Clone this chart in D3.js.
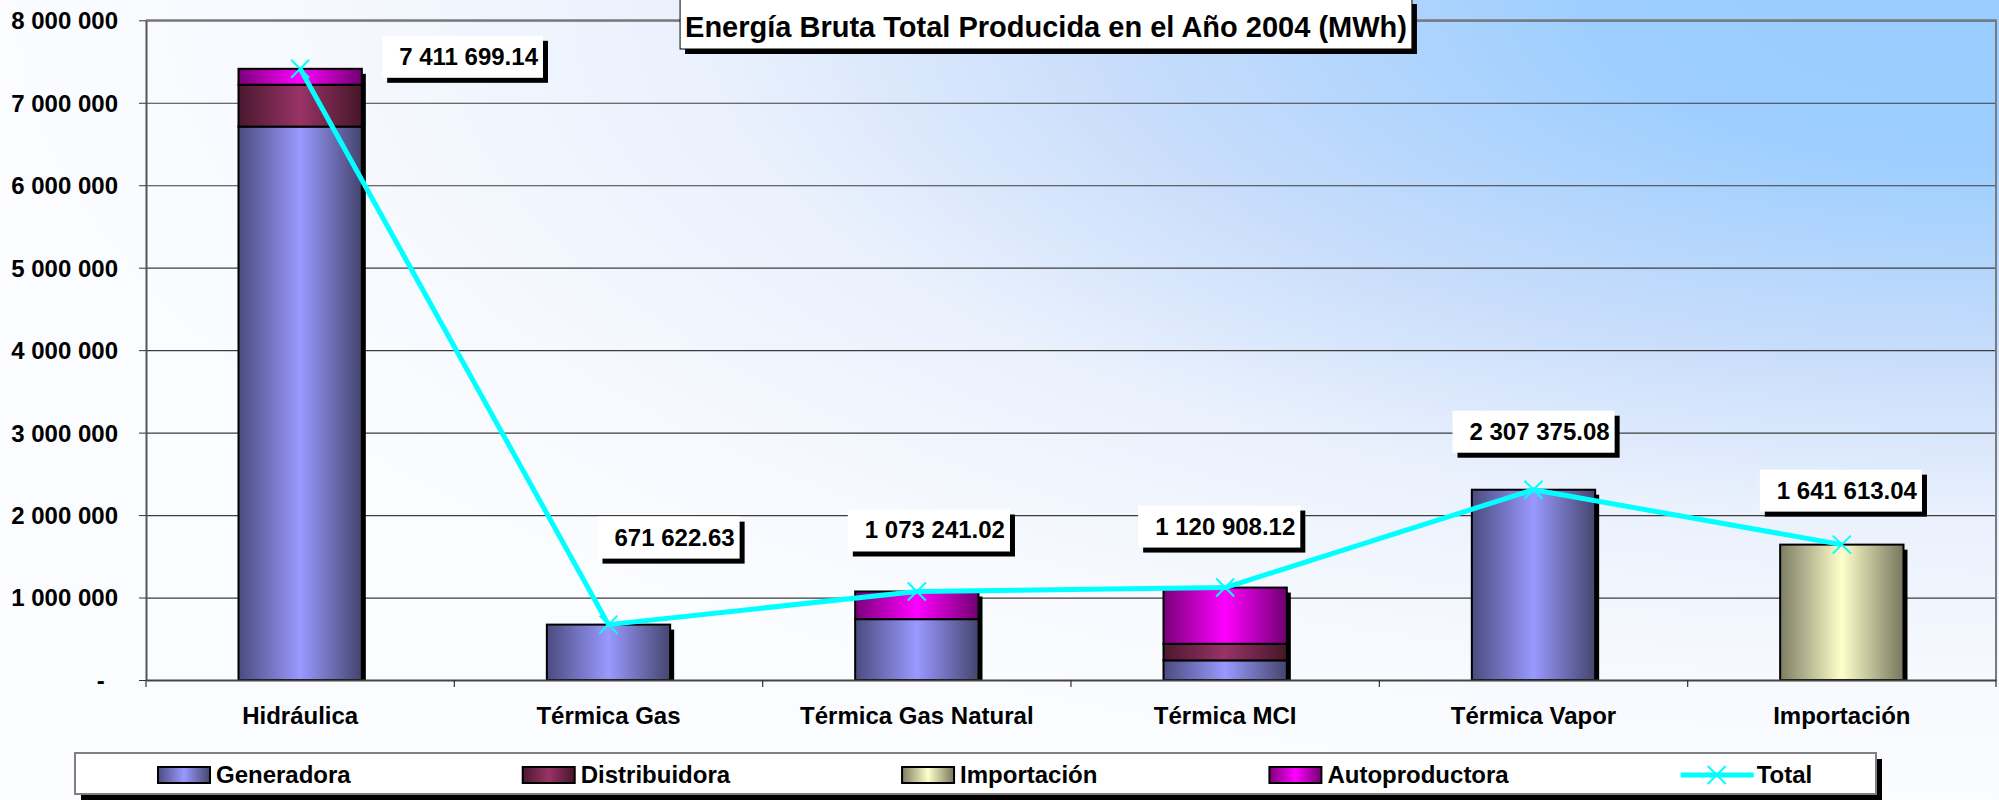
<!DOCTYPE html>
<html>
<head>
<meta charset="utf-8">
<script src="https://cdn.jsdelivr.net/npm/d3@7/dist/d3.min.js"></script>
<style>
  body { margin: 0; background: #fff; overflow: hidden; }
  svg text { font-family: "Liberation Sans", Arial, sans-serif; font-weight: bold; fill: #000; }
</style>
</head>
<body>
<div id="chart"></div>
<script>
// data (MWh)
const categories = ["Hidráulica", "Térmica Gas", "Térmica Gas Natural", "Térmica MCI", "Térmica Vapor", "Importación"];
const seriesNames = ["Generadora", "Distribuidora", "Importación", "Autoproductora"];
const generadora = [6711000, 671622.63, 738000, 238000, 2307375.08, 0];
const distribuidora = [508000, 0, 0, 201000, 0, 0];
const importacion = [0, 0, 0, 0, 0, 1641613.04];
const autoproductora = [192699.14, 0, 335241.02, 681908.12, 0, 0];
const total = [7411699.14, 671622.63, 1073241.02, 1120908.12, 2307375.08, 1641613.04];
const yTicks = [0, 1000000, 2000000, 3000000, 4000000, 5000000, 6000000, 7000000, 8000000];
const titleText = "Energía Bruta Total Producida en el Año 2004 (MWh)";

// where excel left the value boxes, relative to each point
const labelOffsets = [[82, -33], [-11, -108], [-69, -82], [-87, -82], [-81, -79], [-82, -75]];

const W = 1999,
  H = 800,
  plotLeft = 146,
  plotRight = 1996,
  plotTop = 20.3,
  plotBottom = 680;

// bar fills: edge colour, middle colour, edge colour
const fills = {
  Generadora: ["#4b4b80", "#9999ff", "#45456e"],
  Distribuidora: ["#4a1830", "#993366", "#451629"],
  "Importación": ["#7d7d64", "#ffffcc", "#76765e"],
  Autoproductora: ["#7a007a", "#ff00ff", "#700070"]
};

const svg = d3
  .select("#chart")
  .append("svg")
  .attr("width", W)
  .attr("height", H);

const defs = svg.append("defs");

const bg = defs
  .append("radialGradient")
  .attr("id", "bg")
  .attr("cx", 1)
  .attr("cy", 0)
  .attr("r", 1)
  .attr("fx", 1)
  .attr("fy", 0);
[
  [0, "#99ccff"],
  [0.2, "#9dceff"],
  [0.45, "#c8ddfb"],
  [0.65, "#eaf1fd"],
  [0.85, "#f6f9fe"],
  [1, "#fbfcff"]
].forEach(s => bg.append("stop").attr("offset", s[0]).attr("stop-color", s[1]));

Object.keys(fills).forEach((k, i) => {
  const g = defs.append("linearGradient").attr("id", "fill" + i);
  g.append("stop").attr("offset", 0).attr("stop-color", fills[k][0]);
  g.append("stop").attr("offset", 0.5).attr("stop-color", fills[k][1]);
  g.append("stop").attr("offset", 1).attr("stop-color", fills[k][2]);
});

svg.append("rect").attr("width", W).attr("height", H).attr("fill", "url(#bg)");

const x = d3.scaleBand().domain(categories).range([plotLeft, plotRight]);
const y = d3.scaleLinear().domain([0, 8000000]).range([plotBottom, plotTop]);

const fmt = v => d3.format(",")(v).replace(/,/g, " ");
const fmt2 = v => d3.format(",.2f")(v).replace(/,/g, " ");

// gridlines
svg
  .append("g")
  .attr("transform", `translate(${plotLeft},0)`)
  .call(d3.axisLeft(y).tickValues(yTicks.slice(1)).tickSize(-(plotRight - plotLeft)).tickFormat(""))
  .call(g => g.select(".domain").remove())
  .call(g => g.selectAll("line").attr("stroke", "#3c3c3c").attr("stroke-width", 1.2));

// plot border top/right
svg
  .append("path")
  .attr("d", `M${plotLeft},${plotTop}H${plotRight}V${plotBottom}`)
  .attr("fill", "none")
  .attr("stroke", "#7a7a7a")
  .attr("stroke-width", 2);

// stacked bars
const rows = categories.map((c, i) => ({
  cat: c,
  Generadora: generadora[i],
  Distribuidora: distribuidora[i],
  "Importación": importacion[i],
  Autoproductora: autoproductora[i]
}));
const stacked = d3.stack().keys(seriesNames)(rows);
const barW = x.bandwidth() * 0.4;
const barX = c => x(c) + (x.bandwidth() - barW) / 2;
const colTop = d => y(d3.sum(seriesNames, k => d[k]));

// shadows behind each column
svg
  .append("g")
  .selectAll("rect")
  .data(rows)
  .enter()
  .append("rect")
  .attr("x", d => barX(d.cat) + 4)
  .attr("y", d => colTop(d) + 5)
  .attr("width", barW)
  .attr("height", d => plotBottom - colTop(d) - 5)
  .attr("fill", "#000");

svg
  .append("g")
  .selectAll("g")
  .data(stacked)
  .enter()
  .append("g")
  .attr("fill", (d, i) => `url(#fill${i})`)
  .selectAll("rect")
  .data(d => d.filter(s => s[1] - s[0] > 0))
  .enter()
  .append("rect")
  .attr("x", d => barX(d.data.cat))
  .attr("y", d => y(d[1]))
  .attr("width", barW)
  .attr("height", d => y(d[0]) - y(d[1]))
  .attr("stroke", "#000")
  .attr("stroke-width", 2);

// y axis
svg
  .append("g")
  .attr("transform", `translate(${plotLeft},0)`)
  .call(
    d3
      .axisLeft(y)
      .tickValues(yTicks)
      .tickSize(7)
      .tickSizeOuter(0)
      .tickPadding(21)
      .tickFormat(v => (v === 0 ? "-\u00a0\u00a0" : fmt(v)))
  )
  .call(g => g.select(".domain").attr("stroke", "#555").attr("stroke-width", 2))
  .call(g => g.selectAll("line").attr("stroke", "#333"))
  .call(g => g.selectAll("text").style("font-size", "24px").attr("dy", "0.35em"));

// x axis
svg
  .append("g")
  .attr("transform", `translate(0,${plotBottom})`)
  .call(d3.axisBottom(x).tickSize(0).tickPadding(27))
  .call(g => g.select(".domain").attr("stroke", "#444").attr("stroke-width", 2))
  .call(g => g.selectAll("text").style("font-size", "24px"));

svg
  .append("g")
  .selectAll("line")
  .data(categories.concat([null]))
  .enter()
  .append("line")
  .attr("x1", (d, i) => plotLeft + i * x.bandwidth())
  .attr("x2", (d, i) => plotLeft + i * x.bandwidth())
  .attr("y1", plotBottom)
  .attr("y2", plotBottom + 7)
  .attr("stroke", "#333")
  .attr("stroke-width", 1.2);

// total line
const pts = categories.map((c, i) => [x(c) + x.bandwidth() / 2, y(total[i])]);
svg
  .append("path")
  .attr("d", d3.line()(pts))
  .attr("fill", "none")
  .attr("stroke", "#00ffff")
  .attr("stroke-width", 5)
  .attr("stroke-linejoin", "round");

const cross = "M-9,-9L9,9M-9,9L9,-9";
svg
  .append("g")
  .selectAll("path")
  .data(pts)
  .enter()
  .append("path")
  .attr("d", cross)
  .attr("transform", d => `translate(${d[0]},${d[1]})`)
  .attr("stroke", "#00ffff")
  .attr("stroke-width", 2);

// value boxes
const labels = svg
  .append("g")
  .selectAll("g")
  .data(pts)
  .enter()
  .append("g")
  .attr("transform", (d, i) => `translate(${d[0] + labelOffsets[i][0]},${d[1] + labelOffsets[i][1]})`);

labels.each(function (d, i) {
  const g = d3.select(this);
  const sh = g.append("rect").attr("fill", "#000");
  const box = g.append("rect").attr("fill", "#fff");
  const t = g
    .append("text")
    .attr("y", 29)
    .attr("text-anchor", "end")
    .style("font-size", "24px")
    .text(fmt2(total[i]));
  const w = t.node().getComputedTextLength() + 22;
  t.attr("x", w - 5);
  box.attr("width", w).attr("height", 42);
  sh.attr("x", 5).attr("y", 5).attr("width", w).attr("height", 42);
});

// title
const titleG = svg.append("g");
const tSh = titleG.append("rect").attr("fill", "#000");
const tBox = titleG.append("rect").attr("fill", "#fff").attr("stroke", "#000").attr("stroke-width", 1);
const tTxt = titleG
  .append("text")
  .attr("x", 1046)
  .attr("y", 37)
  .attr("text-anchor", "middle")
  .style("font-size", "29px")
  .text(titleText);
const tw = tTxt.node().getComputedTextLength() + 10;
tBox.attr("x", 1046 - tw / 2).attr("y", -1).attr("width", tw).attr("height", 50);
tSh.attr("x", 1046 - tw / 2 + 5).attr("y", 4).attr("width", tw).attr("height", 50);

// legend
const legG = svg.append("g");
legG.append("rect").attr("x", 81).attr("y", 759).attr("width", 1801).attr("height", 41).attr("fill", "#000");
legG
  .append("rect")
  .attr("x", 75)
  .attr("y", 753)
  .attr("width", 1801)
  .attr("height", 41)
  .attr("fill", "#fff")
  .attr("stroke", "#808080")
  .attr("stroke-width", 2);

let lx = 158;
const legendItems = seriesNames.concat(["Total"]);
legendItems.forEach((name, i) => {
  let tx;
  if (name === "Total") {
    legG
      .append("line")
      .attr("x1", lx)
      .attr("x2", lx + 73)
      .attr("y1", 775)
      .attr("y2", 775)
      .attr("stroke", "#00ffff")
      .attr("stroke-width", 5);
    legG
      .append("path")
      .attr("d", cross)
      .attr("transform", `translate(${lx + 36},775)`)
      .attr("stroke", "#00ffff")
      .attr("stroke-width", 2);
    tx = lx + 76;
  } else {
    legG
      .append("rect")
      .attr("x", lx)
      .attr("y", 767)
      .attr("width", 52)
      .attr("height", 16)
      .attr("fill", `url(#fill${i})`)
      .attr("stroke", "#000")
      .attr("stroke-width", 2);
    tx = lx + 58;
  }
  const t = legG
    .append("text")
    .attr("x", tx)
    .attr("y", 783)
    .style("font-size", "24px")
    .text(name);
  lx = tx + t.node().getComputedTextLength() + 172;
});
</script>
</body>
</html>
